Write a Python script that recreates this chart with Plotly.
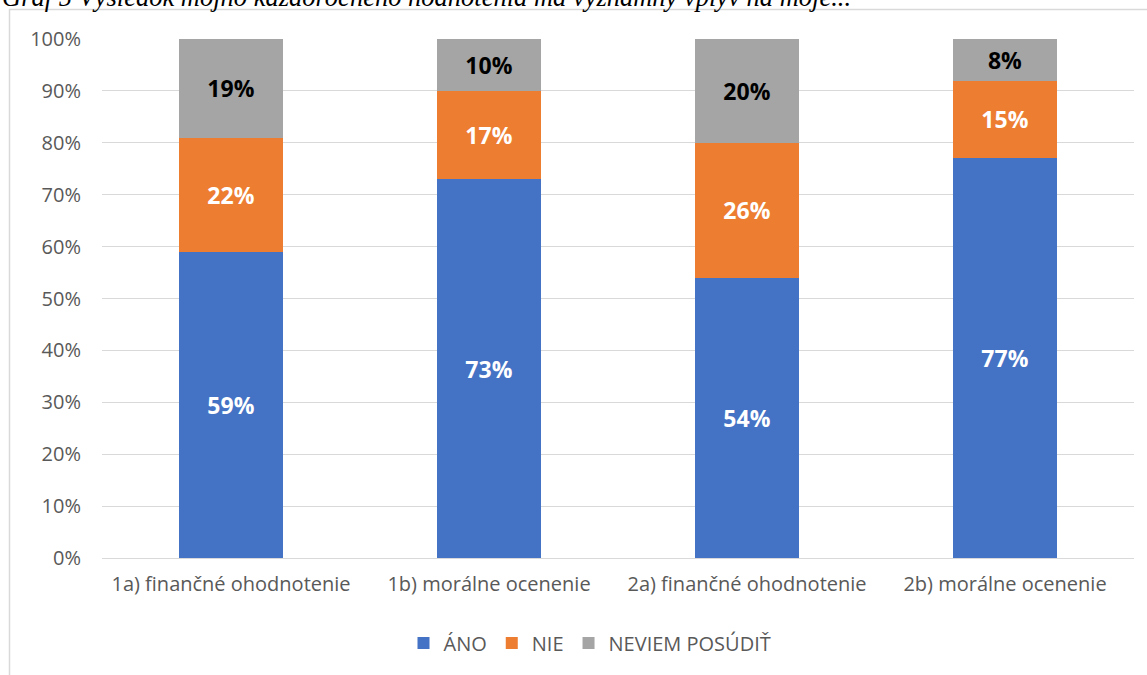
import plotly.graph_objects as go

categories = ["1a) finančné ohodnotenie", "1b) morálne ocenenie",
              "2a) finančné ohodnotenie", "2b) morálne ocenenie"]
ano = [59, 73, 54, 77]
nie = [22, 17, 26, 15]
neviem = [19, 10, 20, 8]
y_ticks = [0, 10, 20, 30, 40, 50, 60, 70, 80, 90, 100]
y_tick_text = [f"{v}%" for v in y_ticks]
caption = "Graf 5 Výsledok môjho každoročného hodnotenia má významný vplyv na moje..."

W, H = 1147, 675
L, R, T, B = 102, 13, 39, 117
PW, PH = W - L - R, H - T - B


def px_x(px):
    return (px - L) / PW


def px_y(py):
    return (H - B - py) / PH


FONT = "Open Sans"
TXT = "#595959"

series = [
    ("ÁNO", ano, "#4472C4", "white"),
    ("NIE", nie, "#ED7D31", "white"),
    ("NEVIEM POSÚDIŤ", neviem, "#A5A5A5", "black"),
]

fig = go.Figure()
for name, vals, color, tcol in series:
    fig.add_trace(go.Bar(
        name=name, x=categories, y=vals,
        marker=dict(color=color, line=dict(width=0)),
        text=[f"{v}%" for v in vals], texttemplate="%{text}",
        textposition="inside", insidetextanchor="middle",
        constraintext="none",
        textfont=dict(family=FONT, size=23, color=tcol, weight="bold"),
        hoverinfo="skip",
    ))

fig.update_layout(
    width=W, height=H,
    margin=dict(l=L, r=R, t=T, b=B),
    barmode="stack", bargap=0.6,
    paper_bgcolor="white", plot_bgcolor="white",
    font=dict(family=FONT, size=20, color=TXT),
    showlegend=True,
    legend=dict(orientation="h", x=px_x(590), xanchor="center",
                y=px_y(643), yanchor="middle",
                font=dict(family=FONT, size=20, color=TXT),
                itemwidth=30, traceorder="normal"),
    xaxis=dict(showgrid=False, showline=False, ticks="",
               ticklabelstandoff=12,
               tickfont=dict(family=FONT, size=20, color=TXT)),
    yaxis=dict(range=[0, 100], tickvals=y_ticks, ticktext=y_tick_text,
               showgrid=True, gridcolor="#D9D9D9", gridwidth=1,
               zeroline=True, zerolinecolor="#D9D9D9", zerolinewidth=1,
               showline=False, ticks="", ticklabelstandoff=20,
               tickfont=dict(family=FONT, size=20, color=TXT)),
    shapes=[dict(type="rect", xref="paper", yref="paper",
                 x0=px_x(9.5), x1=px_x(1152), y0=px_y(690), y1=px_y(9.5),
                 line=dict(color="#D9D9D9", width=1.5), layer="below")],
    annotations=[dict(text=f"<i>{caption}</i>", xref="paper", yref="paper",
                      x=px_x(0), xanchor="left", y=px_y(-3), yanchor="middle",
                      showarrow=False,
                      font=dict(family="Liberation Serif", size=26.5, color="black"))],
)

fig.write_html("out.html")
